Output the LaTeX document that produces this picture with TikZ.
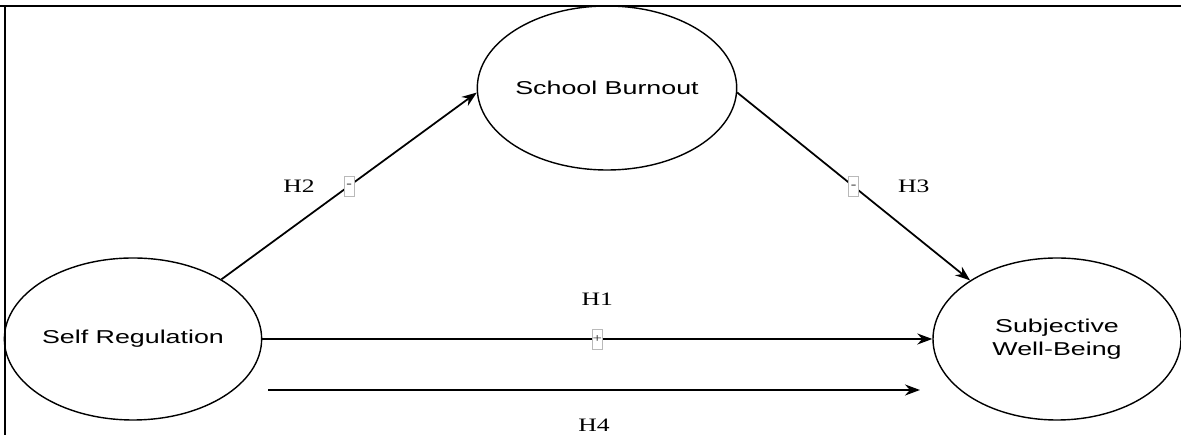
\documentclass[tikz,border=0pt]{standalone}
\usepackage{fontspec}
\setmainfont{Liberation Serif}[FakeStretch=1.35]
\newfontfamily\constructfont{Liberation Sans}[FakeStretch=1.44]
\usetikzlibrary{positioning, arrows.meta, shapes.geometric}

\begin{document}
\begin{tikzpicture}[-, line width=0.8pt,
		construct/.style={ellipse, draw, inner sep=0pt, minimum width=5cm, minimum height=3.24cm, align=center, font=\constructfont\fontsize{10.6}{13}\selectfont},
		path/.style={-{Stealth[length=3mm, width=2.2mm]}, line width=1pt},
		sign/.style={draw=gray!55, fill=white, line width=0.4pt, minimum width=0.2cm, minimum height=0.4cm, inner sep=0pt, text=black!85, font=\fontsize{7}{7}\selectfont},
		hyp/.style={font=\fontsize{10.8}{12}\selectfont}]
		\useasboundingbox (0,0) rectangle (23.62,8.7);
		
		% frame (top and left only)
		\coordinate (fl) at (0.1,0);
		\coordinate (ftl) at (0.1,8.58);
		\coordinate (ftr) at (23.62,8.58);
		\draw[line width=1.2pt] (fl) -- (ftl) -- (ftr);
		\draw[line width=1.2pt] (ftl) -- (0,8.58);
		
		\node[construct, minimum width=5.04cm] (sr) at (2.66,1.92) {Self Regulation};
		\node[construct, minimum width=4.98cm, minimum height=3.28cm] (sb) at (12.14,6.94) {School Burnout};
		\node[construct, minimum width=4.96cm] (swb) at (21.14,1.92) {Subjective\\Well-Being};
		
		\coordinate (h4s) at (5.36,0.9);
		\coordinate (h4e) at (18.4,0.9);
		
		\draw[path] (sr.34) -- node[sign] (m2) {-} node[hyp, xshift=-1.0cm] (h2) {H2} (sb.182);
		\draw[path] (sb.-2) -- node[sign] (m3) {-} node[hyp, xshift=1.2cm] (h3) {H3} (swb.146);
		\draw[path] (sr.east) -- node[sign] (m1) {+} node[hyp, yshift=0.8cm] (h1) {H1} (swb.west);
		\draw[path] (h4s) -- node[hyp, yshift=-0.7cm] (h4) {H4} (h4e);
		
\end{tikzpicture}
\end{document}
